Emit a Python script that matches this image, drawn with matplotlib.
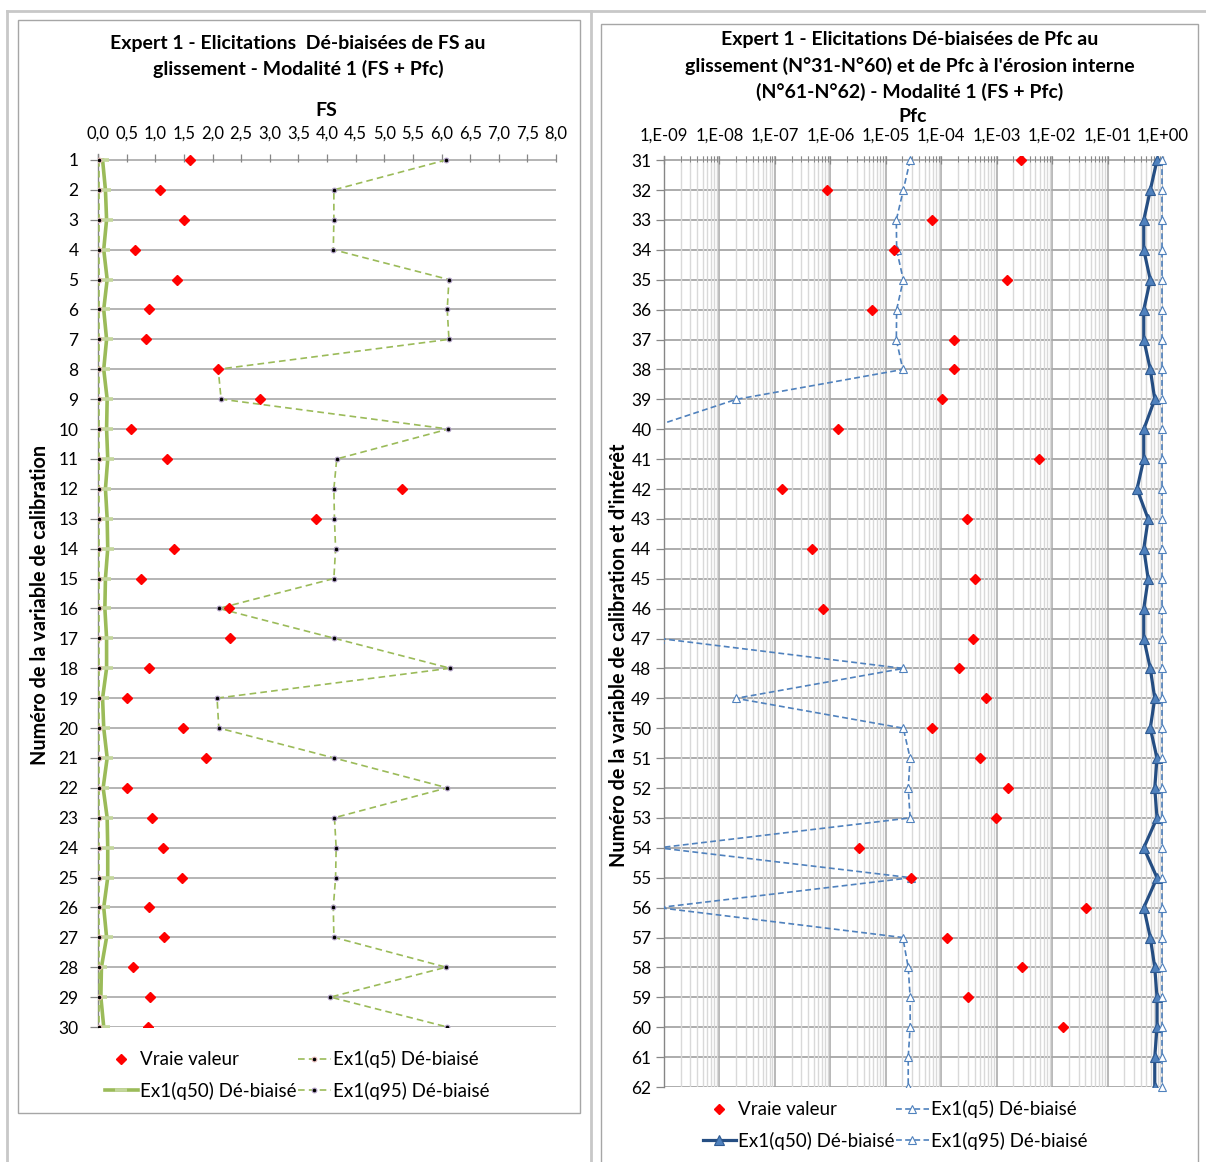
import numpy as np
import matplotlib
matplotlib.use("Agg")
import matplotlib.pyplot as plt
from matplotlib.lines import Line2D
from matplotlib.patches import Rectangle
from matplotlib.ticker import FixedLocator, LogLocator, NullFormatter

plt.rcParams['font.family'] = ['Lato', 'DejaVu Sans']

# ---------------- data : left chart (FS) ----------------
fs_rows = list(range(1, 31))
fs_true = [1.60, 1.08, 1.50, 0.65, 1.38, 0.89, 0.83, 2.10, 2.83, 0.58,
           1.21, 5.31, 3.80, 1.32, 0.75, 2.29, 2.30, 0.89, 0.50, 1.49,
           1.88, 0.51, 0.94, 1.13, 1.46, 0.89, 1.15, 0.61, 0.90, 0.87]
fs_q5 = [0.02, 0.02, 0.02, 0.02, 0.02, 0.02, 0.02, 0.02, 0.02, 0.02,
         0.02, 0.02, 0.02, 0.02, 0.02, 0.02, 0.02, 0.02, 0.02, 0.02,
         0.02, 0.02, 0.02, 0.02, 0.02, 0.02, 0.02, 0.02, 0.02, 0.02]
fs_q50 = [0.08, 0.13, 0.15, 0.10, 0.16, 0.10, 0.15, 0.10, 0.16, 0.15,
          0.17, 0.13, 0.16, 0.17, 0.13, 0.12, 0.15, 0.15, 0.08, 0.10,
          0.16, 0.09, 0.16, 0.17, 0.17, 0.10, 0.15, 0.06, 0.05, 0.10]
fs_q95 = [6.08, 4.12, 4.12, 4.11, 6.13, 6.10, 6.13, 2.10, 2.15, 6.12,
          4.17, 4.12, 4.13, 4.15, 4.12, 2.11, 4.13, 6.15, 2.08, 2.11,
          4.12, 6.10, 4.13, 4.16, 4.15, 4.11, 4.12, 6.08, 4.06, 6.10]
fs_ticks = [0.0, 0.5, 1.0, 1.5, 2.0, 2.5, 3.0, 3.5, 4.0, 4.5, 5.0, 5.5, 6.0, 6.5, 7.0, 7.5, 8.0]
fs_ticklabels = ["0,0", "0,5", "1,0", "1,5", "2,0", "2,5", "3,0", "3,5", "4,0",
                 "4,5", "5,0", "5,5", "6,0", "6,5", "7,0", "7,5", "8,0"]

# ---------------- data : right chart (Pfc) ----------------
pfc_rows = list(range(31, 63))
nan = float('nan')
pfc_true = [2.74e-3, 8.8e-7, 6.8e-5, 1.43e-5, 1.52e-3, 5.6e-6, 1.69e-4, 1.72e-4, 1.03e-4, 1.36e-6,
            5.7e-3, 1.37e-7, 2.9e-4, 4.6e-7, 4.0e-4, 7.3e-7, 3.75e-4, 2.05e-4, 6.5e-4, 6.9e-5,
            5.1e-4, 1.62e-3, 9.9e-4, 3.26e-6, 2.85e-5, 4.1e-2, 1.29e-4, 2.9e-3, 3.0e-4, 1.58e-2,
            nan, nan]
pfc_q5 = [2.75e-5, 2.07e-5, 1.55e-5, 1.57e-5, 2.07e-5, 1.57e-5, 1.55e-5, 2.03e-5, 2.0e-8, 4.7e-10,
          nan, nan, nan, nan, nan, nan, 8.5e-10, 2.07e-5, 2.0e-8, 2.07e-5,
          2.75e-5, 2.54e-5, 2.75e-5, 8.0e-10, 2.85e-5, 8.0e-10, 2.03e-5, 2.54e-5, 2.75e-5, 2.75e-5,
          2.54e-5, 2.54e-5]
pfc_q50 = [0.78, 0.59, 0.45, 0.45, 0.59, 0.45, 0.45, 0.59, 0.71, 0.45,
           0.45, 0.34, 0.54, 0.45, 0.54, 0.45, 0.45, 0.59, 0.71, 0.59,
           0.78, 0.71, 0.78, 0.45, 0.78, 0.45, 0.59, 0.71, 0.78, 0.78,
           0.71, 0.71]
pfc_q95 = [0.95, 0.95, 0.95, 0.95, 0.95, 0.95, 0.95, 0.95, 0.95, 0.95,
           0.95, 0.95, 0.95, 0.95, 0.95, 0.95, 0.95, 0.95, 0.95, 0.95,
           0.95, 0.95, 0.95, 0.95, 0.95, 0.95, 0.95, 0.95, 0.95, 0.95,
           0.95, 0.95]
pfc_ticks = [1e-9, 1e-8, 1e-7, 1e-6, 1e-5, 1e-4, 1e-3, 1e-2, 1e-1, 1e0]
pfc_ticklabels = ["1,E-09", "1,E-08", "1,E-07", "1,E-06", "1,E-05",
                  "1,E-04", "1,E-03", "1,E-02", "1,E-01", "1,E+00"]

legend_labels = ["Vraie valeur", "Ex1(q50) Dé-biaisé", "Ex1(q5) Dé-biaisé", "Ex1(q95) Dé-biaisé"]

left_title = ["Expert 1 - Elicitations  Dé-biaisées de FS au",
              "glissement - Modalité 1 (FS + Pfc)"]
right_title = ["Expert 1 - Elicitations Dé-biaisées de Pfc au",
               "glissement (N°31-N°60) et de Pfc à l'érosion interne",
               "(N°61-N°62) - Modalité 1 (FS + Pfc)"]

# ---------------- figure ----------------
W, H = 1206, 1162
fig = plt.figure(figsize=(W / 100, H / 100), dpi=100)


def fx(px):
    return px / W


def fy(py):
    return 1 - py / H


def box(x0, y0, x1, y1, color="#BFBFBF", lw=1.2):
    fig.add_artist(Rectangle((fx(x0), fy(y1)), fx(x1) - fx(x0), fy(y0) - fy(y1),
                             transform=fig.transFigure, fill=False,
                             edgecolor=color, linewidth=lw))


def hline(x0, x1, y, color="#C8C8C8", lw=2):
    fig.add_artist(Line2D([fx(x0), fx(x1)], [fy(y), fy(y)], transform=fig.transFigure,
                          color=color, linewidth=lw))


def vline(x, y0, y1, color="#C8C8C8", lw=2):
    fig.add_artist(Line2D([fx(x), fx(x)], [fy(y0), fy(y1)], transform=fig.transFigure,
                          color=color, linewidth=lw))


# outer frame lines
hline(7, 1206, 11)
vline(7, 11, 1162)
vline(591, 11, 1162)
# chart boxes
box(18, 20, 580, 1113, color="#A6A6A6", lw=1.0)
box(601, 24, 1198, 1170, color="#A6A6A6", lw=1.0)

XT_FS = 12
YT_FS = 12.5
GREEN = "#9BBB59"

# ---------------- left axes ----------------
axL = fig.add_axes([fx(98), fy(1027), fx(556) - fx(98), fy(154) - fy(1027)])
axL.set_xlim(0, 8)
axL.set_ylim(30, 0.8)
for y in fs_rows:
    axL.axhline(y, color="#A0A0A0", linewidth=1.1, zorder=1)
l_q50, = axL.plot(fs_q50, fs_rows, '-', color=GREEN, linewidth=2.6,
                  marker='_', markersize=8, markeredgewidth=2.6, markeredgecolor='#C3D69B',
                  zorder=3)
l_q5, = axL.plot(fs_q5, fs_rows, linestyle=(0, (4, 2.5)), color=GREEN, linewidth=1.2,
                 marker='o', markersize=3.4, markerfacecolor='black',
                 markeredgecolor='#E6B9B8', markeredgewidth=0.8, zorder=4)
l_q95, = axL.plot(fs_q95, fs_rows, linestyle=(0, (4, 2.5)), color=GREEN, linewidth=1.2,
                  marker='o', markersize=3.4, markerfacecolor='black',
                  markeredgecolor='#B3A2C7', markeredgewidth=0.8, zorder=4)
l_true, = axL.plot(fs_true, fs_rows, linestyle='none', marker='D', markersize=5.2,
                   color='#FF0000', markeredgecolor='#FF0000', zorder=5)

axL.xaxis.set_ticks_position('top')
axL.xaxis.set_major_locator(FixedLocator(fs_ticks))
axL.set_xticklabels(fs_ticklabels)
axL.set_yticks(fs_rows)
axL.set_yticklabels([str(r) for r in fs_rows])
axL.tick_params(axis='x', direction='in', length=6, width=0.9, color='#868686',
                pad=9, labelsize=XT_FS)
axL.tick_params(axis='y', direction='out', length=6, width=0.9, color='#868686',
                pad=8, labelsize=YT_FS)
for s in ['top', 'right', 'bottom']:
    axL.spines[s].set_visible(False)
axL.spines['left'].set_color('#868686')
axL.spines['left'].set_linewidth(1.0)
axL.set_facecolor('none')

# ---------------- right axes ----------------
axR = fig.add_axes([fx(664), fy(1087), fx(1163) - fx(664), fy(156) - fy(1087)])
axR.set_xscale('log')
axR.set_xlim(1e-9, 1)
axR.set_ylim(62, 30.86)
axR.xaxis.set_minor_locator(LogLocator(base=10, subs=np.arange(2, 10)))
axR.xaxis.set_minor_formatter(NullFormatter())
axR.grid(True, which='minor', axis='x', color='#D9D9D9', linewidth=1.0, zorder=0)
axR.grid(True, which='major', axis='x', color='#A6A6A6', linewidth=1.1, zorder=0)
for y in pfc_rows:
    axR.axhline(y, color="#A6A6A6", linewidth=1.3, zorder=1)
BLUE = "#4F81BD"
r_q5, = axR.plot(pfc_q5, pfc_rows, linestyle=(0, (3.5, 2)), color=BLUE, linewidth=1.2,
                 marker='^', markersize=5.5, markerfacecolor='white',
                 markeredgecolor=BLUE, markeredgewidth=0.8, zorder=3)
r_q50, = axR.plot(pfc_q50, pfc_rows, '-', color="#254E83", linewidth=2.3,
                  marker='^', markersize=7.5, markerfacecolor=BLUE,
                  markeredgecolor="#2E5A92", markeredgewidth=0.8, zorder=3)
r_q95, = axR.plot(pfc_q95, pfc_rows, linestyle=(0, (3.5, 2)), color=BLUE, linewidth=1.2,
                  marker='^', markersize=5.5, markerfacecolor='white',
                  markeredgecolor=BLUE, markeredgewidth=0.8, zorder=3, clip_on=False)
r_true, = axR.plot(pfc_true, pfc_rows, linestyle='none', marker='D', markersize=4.6,
                   color='#FF0000', markeredgecolor='#FF0000', zorder=4)

axR.xaxis.set_ticks_position('top')
axR.set_xticks(pfc_ticks)
axR.set_xticklabels(pfc_ticklabels)
axR.set_yticks(pfc_rows)
axR.set_yticklabels([str(r) for r in pfc_rows])
axR.tick_params(axis='x', which='major', direction='in', length=6, width=0.9,
                color='#868686', pad=9, labelsize=XT_FS)
axR.tick_params(axis='x', which='minor', direction='in', length=4, width=0.7,
                color='#868686')
axR.tick_params(axis='y', direction='out', length=6, width=0.9, color='#868686',
                pad=3, labelsize=YT_FS)
for s in ['top', 'right', 'bottom']:
    axR.spines[s].set_visible(False)
axR.spines['left'].set_color('#868686')
axR.spines['left'].set_linewidth(1.0)
axR.set_facecolor('none')

# ---------------- texts ----------------
TFS = 14
for i, line in enumerate(left_title):
    fig.text(fx(298), fy(44 + 25 * i), line, ha='center', va='center',
             fontsize=TFS, fontweight='bold')
fig.text(fx(326), fy(110), "FS", ha='center', va='center', fontsize=TFS, fontweight='bold')
for i, line in enumerate(right_title):
    fig.text(fx(910), fy(40 + 26 * i), line, ha='center', va='center',
             fontsize=TFS, fontweight='bold')
fig.text(fx(913), fy(116), "Pfc", ha='center', va='center', fontsize=TFS, fontweight='bold')

fig.text(fx(40), fy(605), "Numéro de la variable de calibration", rotation=90,
         ha='center', va='center', fontsize=14.3, fontweight='bold')
fig.text(fx(619), fy(655), "Numéro de la variable de calibration et d'intérêt", rotation=90,
         ha='center', va='center', fontsize=14.3, fontweight='bold')

# ---------------- legends ----------------
LFS = 13.5
leg_kw = dict(loc='upper left', ncol=2, frameon=False, fontsize=LFS,
              handlelength=1.75, handletextpad=0.1, columnspacing=0.1,
              labelspacing=0.72, borderpad=0, borderaxespad=0)
fig.legend([l_true, l_q50, l_q5, l_q95], legend_labels,
           bbox_to_anchor=(fx(105), fy(1050)), **leg_kw)
fig.legend([r_true, r_q50, r_q5, r_q95], legend_labels,
           bbox_to_anchor=(fx(703), fy(1100)), **leg_kw)

fig.savefig("out.png", dpi=100)
